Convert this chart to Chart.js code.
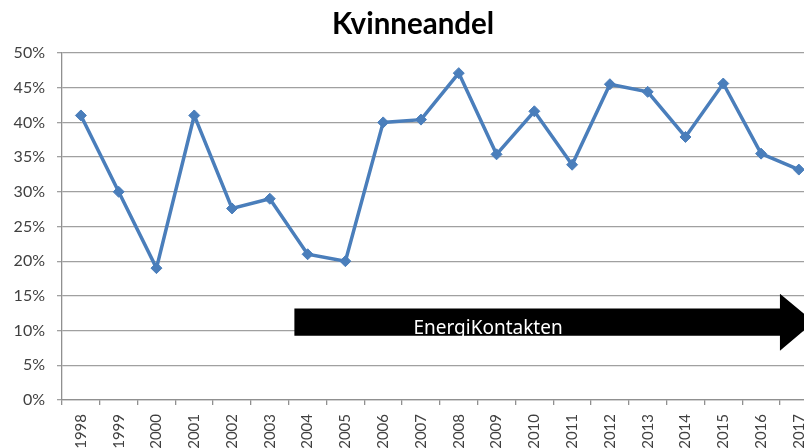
<!DOCTYPE html>
<html>
<head>
<meta charset="utf-8">
<script src="https://cdn.jsdelivr.net/npm/chart.js@4/dist/chart.umd.min.js"></script>
<style>
  html, body { margin: 0; padding: 0; background: #fff; overflow: hidden; }
  #wrap { width: 804px; height: 448px; overflow: hidden; position: relative; }
  #box { width: 826px; height: 462px; position: absolute; left: 0; top: 0; }
</style>
</head>
<body>
<div id="wrap"><div id="box"><canvas id="womenChart"></canvas></div></div>
<script>
// Kvinneandel chart

const years = ['1998', '1999', '2000', '2001', '2002', '2003', '2004', '2005', '2006', '2007',
               '2008', '2009', '2010', '2011', '2012', '2013', '2014', '2015', '2016', '2017'];
const shareWomen = [41, 30, 19, 41, 27.6, 29, 21, 20, 40, 40.4,
                    47.1, 35.4, 41.6, 33.9, 45.5, 44.4, 37.9, 45.6, 35.5, 33.2];
const yTicks = [0, 5, 10, 15, 20, 25, 30, 35, 40, 45, 50];
const arrowLabel = 'EnergiKontakten';

// arrow drawn over the chart, placed with the scales
const arrowPlugin = {
    id: 'arrowBanner',
    afterDatasetsDraw(chart) {
        const ctx = chart.ctx;
        const x = chart.scales.x;
        const y = chart.scales.y;
        const step = x.getPixelForValue(1) - x.getPixelForValue(0);
        const left = x.getPixelForValue(6) - step * 0.35;
        const headStart = x.getPixelForValue(18.5);
        const tip = x.getPixelForValue(19.4);
        const top = y.getPixelForValue(13.2);
        const bottom = y.getPixelForValue(9.25);
        const headTop = y.getPixelForValue(15.3);
        const headBottom = y.getPixelForValue(7.1);
        const mid = (top + bottom) / 2;

        ctx.save();
        ctx.fillStyle = '#000';
        ctx.beginPath();
        ctx.moveTo(left, top);
        ctx.lineTo(headStart, top);
        ctx.lineTo(headStart, headTop);
        ctx.lineTo(tip, mid);
        ctx.lineTo(headStart, headBottom);
        ctx.lineTo(headStart, bottom);
        ctx.lineTo(left, bottom);
        ctx.closePath();
        ctx.fill();

        ctx.fillStyle = '#fff';
        ctx.font = '19px "Noto Sans", sans-serif';
        ctx.textBaseline = 'alphabetic';
        ctx.textAlign = 'left';
        ctx.fillText(arrowLabel, x.getPixelForValue(9) - step * 0.2, y.getPixelForValue(9.55));
        ctx.restore();
    }
};

const ctx = document.getElementById('womenChart').getContext('2d');
const chart = new Chart(ctx, {
    type: 'line',
    data: {
        labels: years,
        datasets: [{
            label: 'Kvinneandel',
            data: shareWomen,
            borderColor: '#4a7ebb',
            backgroundColor: '#4a7ebb',
            borderWidth: 3.5,
            tension: 0,
            fill: false,
            pointStyle: 'rectRot',
            pointRadius: 5.5,
            pointBackgroundColor: '#4a7ebb',
            pointBorderColor: '#4a7ebb',
            pointBorderWidth: 1
        }]
    },
    plugins: [arrowPlugin],
    options: {
        responsive: true,
        maintainAspectRatio: false,
        animation: false,
        layout: {
            padding: { left: 4, right: 4, top: 0, bottom: 0 }
        },
        plugins: {
            legend: { display: false },
            tooltip: { enabled: false },
            title: {
                display: true,
                text: 'Kvinneandel',
                color: '#000',
                font: { size: 29.5, weight: 'bold', family: 'Lato' },
                padding: { top: 7, bottom: 10.6 }
            }
        },
        scales: {
            y: {
                min: 0,
                max: 50,
                afterBuildTicks: function(axis) {
                    axis.ticks = yTicks.map(v => ({ value: v }));
                },
                afterFit: function(axis) {
                    axis.width = 58;
                },
                ticks: {
                    color: '#404040',
                    font: { size: 16, family: 'Lato' },
                    padding: 12,
                    callback: v => v + '%'
                },
                grid: {
                    color: '#a0a0a0',
                    lineWidth: 1.3,
                    tickLength: 5
                },
                border: { color: '#909090', width: 1.3 }
            },
            x: {
                offset: true,
                afterFit: function(axis) {
                    axis.height = 62;
                },
                ticks: {
                    color: '#404040',
                    font: { size: 15, family: 'Lato' },
                    minRotation: 90,
                    maxRotation: 90,
                    autoSkip: false,
                    padding: 9
                },
                grid: {
                    offset: true,
                    drawOnChartArea: false,
                    color: '#909090',
                    lineWidth: 1.3,
                    tickLength: 5
                },
                border: { color: '#909090', width: 1.3 }
            }
        }
    }
});
</script>
</body>
</html>
